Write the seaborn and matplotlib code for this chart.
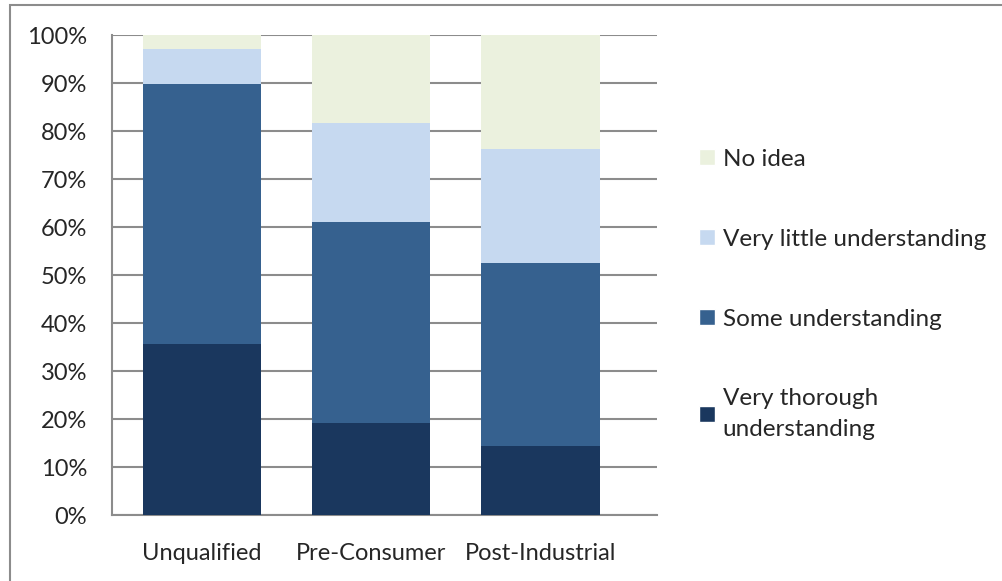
import numpy as np
import pandas as pd
import matplotlib
matplotlib.use("Agg")
import matplotlib.pyplot as plt
import seaborn as sns
from matplotlib.patches import Patch, Rectangle

# data (percent of respondents)
groups = ["Unqualified", "Pre-Consumer", "Post-Industrial"]
very_thorough = [35.6, 19.2, 14.4]
some = [54.2, 41.8, 38.1]
very_little = [7.3, 20.7, 23.8]
no_idea = [2.9, 18.3, 23.7]

levels = ["Very thorough\nunderstanding", "Some understanding",
          "Very little understanding", "No idea"]
colors = ["#1a375e", "#36618f", "#c6d9f0", "#ebf1de"]

sns.set_style("white")
plt.rcParams["font.family"] = ["Lato", "DejaVu Sans"]
fs = 17

df = pd.DataFrame({"group": groups, levels[0]: very_thorough, levels[1]: some,
                   levels[2]: very_little, levels[3]: no_idea})
cum = df[levels].cumsum(axis=1)
cum["group"] = df["group"]

fig = plt.figure(figsize=(10.03, 5.81), dpi=100)
ax = fig.add_axes([112 / 1003, 1 - 515 / 581, 545 / 1003, 480 / 581])

# stacked bars: draw the running totals from the top segment down
for lev, col in reversed(list(zip(levels, colors))):
    sns.barplot(data=cum, x="group", y=lev, color=col, width=0.7,
                saturation=1, linewidth=0, ax=ax, zorder=3)

ax.set_ylim(0, 100)
ax.set_xlim(-0.533, 2.69)
ax.set_yticks(np.arange(0, 101, 10))
ax.set_yticklabels([f"{v}%" for v in range(0, 101, 10)], fontsize=fs)
ax.tick_params(axis="x", labelsize=fs, length=0, pad=20)
ax.tick_params(axis="y", length=0, pad=18)
ax.set_xlabel("")
ax.set_ylabel("")
ax.yaxis.grid(True, color="#8c8c8c", linewidth=1.5, zorder=0)
ax.set_axisbelow(True)
for s in ["top", "right"]:
    ax.spines[s].set_visible(False)
for s in ["left", "bottom"]:
    ax.spines[s].set_color("#8c8c8c")
    ax.spines[s].set_linewidth(1.5)

handles = [Patch(facecolor=c, label=l) for l, c in zip(levels, colors)][::-1]
leg = ax.legend(handles=handles, loc="upper left", bbox_to_anchor=(1.06, 0.783),
                frameon=False, fontsize=17.5, handlelength=0.65, handleheight=0.65,
                handletextpad=0.3, labelspacing=2.42, borderaxespad=0)
for t in leg.get_texts():
    t.set_linespacing(1.55)

# outer chart border
fig.patches.append(Rectangle((10 / 1003, -0.05), 1.2, 1 - 5 / 581 + 0.05,
                             transform=fig.transFigure, fill=False,
                             edgecolor="#8c8c8c", linewidth=1.5))

fig.savefig("out.png", dpi=100)
